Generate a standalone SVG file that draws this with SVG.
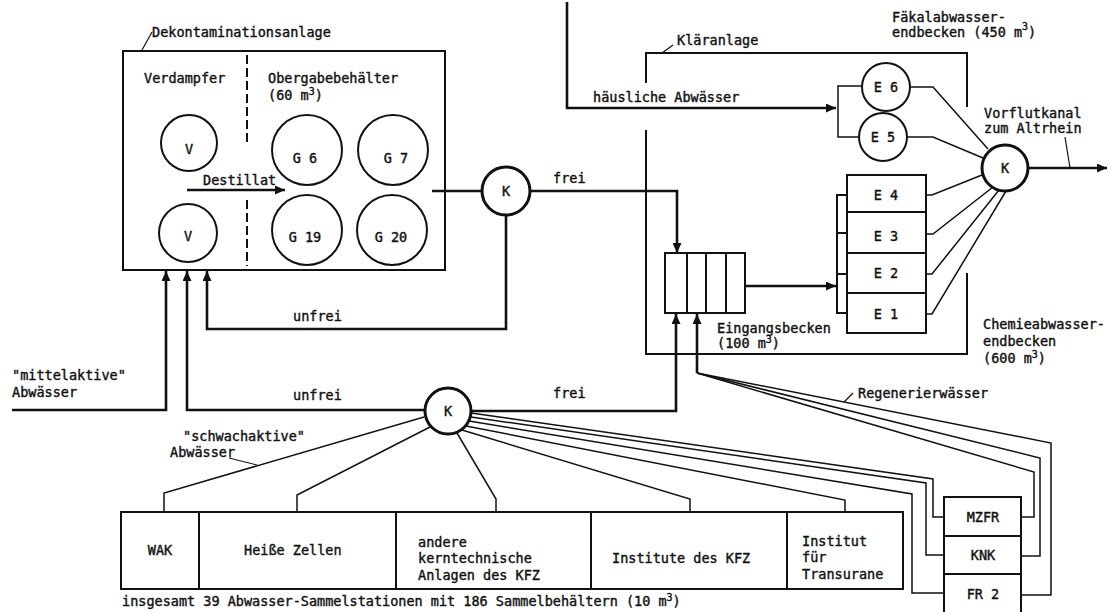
<svg xmlns="http://www.w3.org/2000/svg" width="1109" height="612" viewBox="0 0 1109 612">
<defs>
<marker id="ah" markerUnits="userSpaceOnUse" markerWidth="11" markerHeight="9" refX="10" refY="4.5" orient="auto">
<path d="M0,0 L10,4.5 L0,9 z" fill="#111"/>
</marker>
<style>
text{font-family:"DejaVu Sans Mono","Liberation Mono",monospace;font-size:13.5px;fill:#111;stroke:#111;stroke-width:0.4}
.m{text-anchor:middle}
.box{fill:none;stroke:#111;stroke-width:2}
.tank{fill:#fff;stroke:#111;stroke-width:2}
.k{fill:#fff;stroke:#111;stroke-width:3}
.flow{fill:none;stroke:#111;stroke-width:2.6}
.thin{fill:none;stroke:#111;stroke-width:1.5}
.lead{fill:none;stroke:#111;stroke-width:1.2}
.dash{fill:none;stroke:#111;stroke-width:2;stroke-dasharray:9 4}
</style>
</defs>
<rect width="1109" height="612" fill="#fff"/>

<g id="connectors">
<path class="flow" d="M432,191 H482"/>
<path class="flow" d="M530,191 H677 V253" marker-end="url(#ah)"/>
<path class="flow" d="M506,215 V329 H207 V271" marker-end="url(#ah)"/>
<path class="flow" d="M425,410 H187 V271" marker-end="url(#ah)"/>
<path class="flow" d="M12,410 H166 V271" marker-end="url(#ah)"/>
<path class="flow" d="M471,411 H676 V314" marker-end="url(#ah)"/>
<path class="flow" d="M697,373 V314" marker-end="url(#ah)"/>
<path class="thin" d="M697,373 L1051,443 V595 H1021"/>
<path class="thin" d="M697,373 L1040,458 V556 H1021"/>
<path class="thin" d="M697,373 L1034,472 V517 H1021"/>
<path class="thin" d="M164,512 V493 L424,417"/>
<path class="thin" d="M297,512 V495 L430,427"/>
<path class="thin" d="M496,512 V499 L457,433"/>
<path class="thin" d="M690,512 V499 L462,430"/>
<path class="thin" d="M845,512 V500 L466,426"/>
<path class="thin" d="M944,593 H912 V494 L469,421"/>
<path class="thin" d="M944,555 H926 V483 L471,417"/>
<path class="thin" d="M944,517 H933 V479 L471,413"/>
<path class="flow" d="M567,2 V108 H836" marker-end="url(#ah)"/>
<path class="thin" d="M862,86 H838 V137 H859"/>
<path class="thin" d="M910,87 H933 L988,149"/>
<path class="thin" d="M907,137 H933 L983,158"/>
<path class="thin" d="M926,195 H932 L982,175"/>
<path class="thin" d="M926,234 H933 L993,187"/>
<path class="thin" d="M926,274 H932 L999,190"/>
<path class="thin" d="M926,314 H932 L1006,191"/>
<path class="flow" d="M745,286 H836" marker-end="url(#ah)"/>
<path class="flow" d="M1028,168 H1107" marker-end="url(#ah)"/>
</g>

<g id="dekontaminationsanlage">
<rect class="box" x="123" y="51" width="322" height="219"/>
<path class="lead" d="M152,32 L142,50"/>
<text x="152" y="37">Dekontaminationsanlage</text>
<text x="144" y="83">Verdampfer</text>
<text x="268" y="83">Obergabebehälter</text>
<text x="268" y="100">(60 m<tspan dy="-5" font-size="10">3</tspan><tspan dy="5">)</tspan></text>
<path class="dash" d="M247,55 V142 M247,200 V266"/>
</g>

<g id="V1"><circle class="tank" cx="189" cy="143" r="28"/><text class="m" x="189" y="154">V</text></g>
<g id="V2"><circle class="tank" cx="188" cy="233" r="29"/><text class="m" x="188" y="241">V</text></g>
<g id="G6"><circle class="tank" cx="307" cy="150" r="35"/><text class="m" x="305" y="163">G 6</text></g>
<g id="G7"><circle class="tank" cx="393" cy="150" r="35"/><text class="m" x="396" y="163">G 7</text></g>
<g id="G19"><circle class="tank" cx="307" cy="230" r="35"/><text class="m" x="305" y="242">G 19</text></g>
<g id="G20"><circle class="tank" cx="392" cy="230" r="35"/><text class="m" x="391" y="242">G 20</text></g>

<g id="destillat">
<path class="flow" d="M187,190 H285" marker-end="url(#ah)"/>
<text x="203" y="185">Destillat</text>
</g>

<g id="K1"><circle class="k" cx="506" cy="191" r="24"/><text class="m" x="506" y="196">K</text></g>
<g id="K2"><circle class="k" cx="448" cy="411" r="23"/><text class="m" x="448" y="416">K</text></g>
<g id="K3"><circle class="k" cx="1005" cy="168" r="23"/><text class="m" x="1005" y="173">K</text></g>

<g id="labels-flow">
<text x="553" y="183">frei</text>
<text x="293" y="321">unfrei</text>
<text x="293" y="400">unfrei</text>
<text x="553" y="398">frei</text>
<text x="12" y="380">"mittelaktive"</text>
<text x="12" y="397">Abwässer</text>
<text x="183" y="441">"schwachaktive"</text>
<text x="170" y="457">Abwässer</text>
<path class="lead" d="M229,458 L257,465"/>
<text x="593" y="102">häusliche Abwässer</text>
<text x="858" y="398">Regenerierwässer</text>
<path class="lead" d="M844,402 L853,393"/>
</g>

<g id="klaeranlage">
<path class="box" d="M646,83 V53 H967 V107 M646,130 V354 H967 V273"/>
<path class="lead" d="M662,53 L673,45"/>
<text x="677" y="45">Kläranlage</text>
</g>

<g id="eingangsbecken">
<rect class="tank" x="665" y="253" width="80" height="60"/>
<path class="box" d="M687,253 V313 M706,253 V313 M726,253 V313"/>
<text x="717" y="333">Eingangsbecken</text>
<text x="717" y="348">(100 m<tspan dy="-5" font-size="10">3</tspan><tspan dy="5">)</tspan></text>
</g>

<g id="E6"><circle class="tank" cx="886" cy="87" r="24"/><text class="m" x="886" y="92">E 6</text></g>
<g id="E5"><circle class="tank" cx="883" cy="137" r="24"/><text class="m" x="883" y="142">E 5</text></g>

<g id="chemiebecken">
<rect class="tank" x="837" y="195" width="10" height="118"/>
<path class="box" d="M837,233 H847 M837,274 H847"/>
<rect class="tank" x="847" y="175" width="79" height="158"/>
<path class="box" d="M847,212 H926 M847,253 H926 M847,293 H926"/>
<text class="m" x="886" y="200">E 4</text>
<text class="m" x="886" y="241">E 3</text>
<text class="m" x="886" y="278">E 2</text>
<text class="m" x="886" y="319">E 1</text>
<text x="983" y="329">Chemieabwasser-</text>
<text x="983" y="346">endbecken</text>
<text x="983" y="363">(600 m<tspan dy="-5" font-size="10">3</tspan><tspan dy="5">)</tspan></text>
</g>

<g id="faekal">
<text x="892" y="22">Fäkalabwasser-</text>
<text x="892" y="37">endbecken (450 m<tspan dy="-7" font-size="10">3</tspan><tspan dy="7">)</tspan></text>
</g>

<g id="vorflut">
<text x="984" y="118">Vorflutkanal</text>
<text x="984" y="133">zum Altrhein</text>
<path class="lead" d="M1065,137 L1070,168"/>
</g>

<g id="sammelstationen">
<rect class="box" x="121" y="512" width="782" height="77"/>
<path class="box" d="M199,512 V589 M396,512 V589 M591,512 V589 M787,512 V589"/>
<text class="m" x="160" y="555">WAK</text>
<text x="244" y="555">Heiße Zellen</text>
<text x="418" y="547">andere</text>
<text x="418" y="563">kerntechnische</text>
<text x="418" y="580">Anlagen des KFZ</text>
<text x="612" y="563">Institute des KFZ</text>
<text x="802" y="546">Institut</text>
<text x="802" y="562">für</text>
<text x="802" y="579">Transurane</text>
<text x="122" y="606">insgesamt 39 Abwasser-Sammelstationen mit 186 Sammelbehältern (10 m<tspan dy="-5" font-size="10">3</tspan><tspan dy="5">)</tspan></text>
</g>

<g id="reaktoren">
<rect class="tank" x="944" y="497" width="77" height="125"/>
<path class="box" d="M944,536 H1021 M944,574 H1021"/>
<text class="m" x="983" y="522">MZFR</text>
<text class="m" x="983" y="560">KNK</text>
<text class="m" x="983" y="599">FR 2</text>
</g>
</svg>
